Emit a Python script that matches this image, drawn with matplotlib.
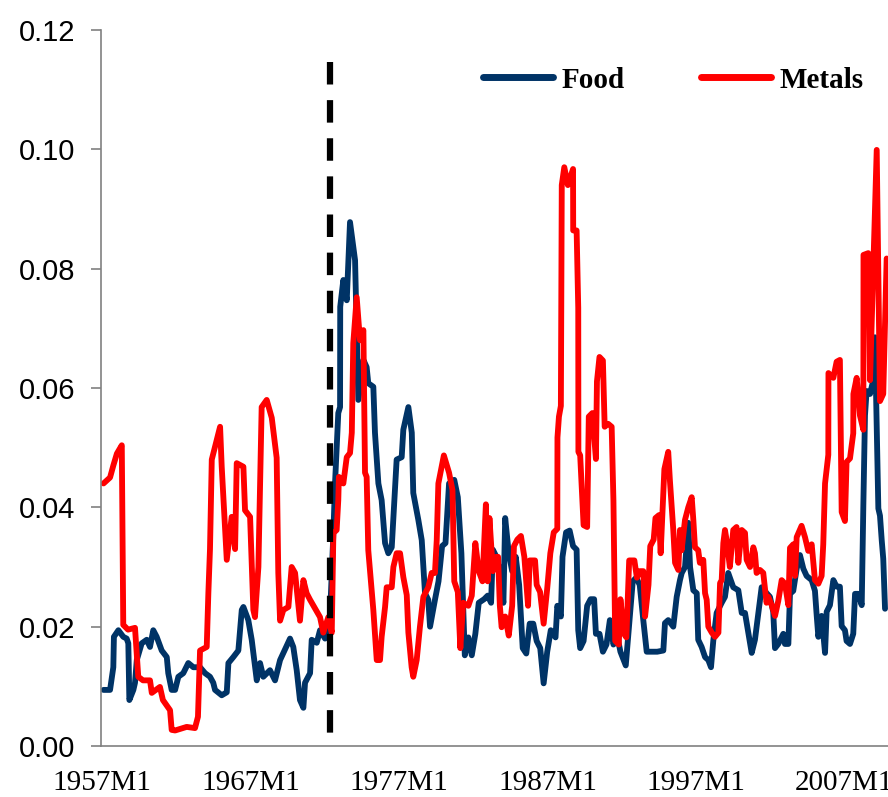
import matplotlib
matplotlib.use("Agg")
import matplotlib.pyplot as plt
from matplotlib.ticker import FormatStrFormatter

# dates as decimal years
food_year = [
    1957.10, 1957.54, 1957.76, 1957.80, 1958.10, 1958.43, 1958.66, 1958.77, 1958.84, 1959.11,
    1959.22, 1959.34, 1959.67, 1960.01, 1960.23, 1960.45, 1960.68, 1961.02, 1961.36, 1961.46,
    1961.69, 1961.92, 1962.14, 1962.47, 1962.81, 1963.15, 1963.60, 1963.94, 1964.27, 1964.49,
    1964.61, 1965.06, 1965.40, 1965.51, 1965.84, 1966.18, 1966.41, 1966.52, 1966.85, 1967.08,
    1967.42, 1967.64, 1967.86, 1968.31, 1968.65, 1968.99, 1969.66, 1969.88, 1970.11, 1970.33,
    1970.56, 1970.67, 1971.01, 1971.12, 1971.46, 1971.68, 1972.02, 1972.35, 1972.58, 1972.69,
    1972.91, 1973.03, 1973.04, 1973.25, 1973.48, 1973.70, 1974.04, 1974.26, 1974.60, 1974.82,
    1974.93, 1975.27, 1975.38, 1975.61, 1975.83, 1976.06, 1976.28, 1976.51, 1976.84, 1977.18,
    1977.29, 1977.63, 1977.86, 1977.96, 1978.30, 1978.53, 1978.75, 1978.97, 1979.09, 1979.42,
    1979.66, 1979.90, 1980.13, 1980.37, 1980.72, 1980.96, 1981.20, 1981.32, 1981.43, 1981.67,
    1981.90, 1982.14, 1982.37, 1982.73, 1982.97, 1983.20, 1983.32, 1983.56, 1983.79, 1984.03,
    1984.15, 1984.39, 1984.62, 1984.86, 1985.09, 1985.33, 1985.57, 1985.80, 1986.04, 1986.27,
    1986.51, 1986.74, 1986.98, 1987.22, 1987.54, 1987.66, 1987.90, 1988.01, 1988.25, 1988.49,
    1988.72, 1988.96, 1989.07, 1989.20, 1989.43, 1989.67, 1989.90, 1990.14, 1990.26, 1990.50,
    1990.73, 1990.97, 1991.20, 1991.44, 1991.67, 1991.91, 1992.27, 1992.50, 1992.74, 1992.97,
    1993.21, 1993.45, 1993.68, 1994.39, 1994.80, 1994.91, 1995.13, 1995.47, 1995.70, 1995.92,
    1996.04, 1996.26, 1996.48, 1996.60, 1996.82, 1997.05, 1997.15, 1997.38, 1997.61, 1997.83,
    1998.01, 1998.17, 1998.39, 1998.73, 1998.95, 1999.17, 1999.51, 1999.85, 2000.08, 2000.30,
    2000.52, 2000.75, 2000.97, 2001.20, 2001.42, 2001.76, 2001.98, 2002.20, 2002.32, 2002.54,
    2002.88, 2002.99, 2003.22, 2003.33, 2003.55, 2003.78, 2004.00, 2004.23, 2004.45, 2004.79,
    2005.01, 2005.13, 2005.24, 2005.46, 2005.69, 2005.80, 2006.02, 2006.25, 2006.47, 2006.69,
    2006.81, 2007.03, 2007.14, 2007.37, 2007.59, 2007.71, 2007.93, 2008.16, 2008.27, 2008.38,
    2008.49, 2008.72, 2008.94, 2009.05, 2009.28, 2009.39, 2009.51, 2009.61, 2009.73,
]
food_value = [
    0.0094, 0.0094, 0.0132, 0.0183, 0.0194, 0.0183, 0.0180, 0.0172, 0.0077, 0.0094,
    0.0106, 0.0144, 0.0172, 0.0178, 0.0166, 0.0194, 0.0183, 0.0160, 0.0149, 0.0122,
    0.0094, 0.0094, 0.0116, 0.0122, 0.0139, 0.0132, 0.0132, 0.0122, 0.0116, 0.0106,
    0.0094, 0.0085, 0.0090, 0.0139, 0.0149, 0.0160, 0.0228, 0.0233, 0.0211, 0.0178,
    0.0110, 0.0139, 0.0116, 0.0127, 0.0110, 0.0144, 0.0180, 0.0166, 0.0127, 0.0077,
    0.0064, 0.0106, 0.0122, 0.0178, 0.0173, 0.0194, 0.0180, 0.0216, 0.0357, 0.0440,
    0.0558, 0.0568, 0.0736, 0.0781, 0.0747, 0.0878, 0.0814, 0.0580, 0.0647, 0.0635,
    0.0608, 0.0602, 0.0525, 0.0440, 0.0412, 0.0340, 0.0323, 0.0333, 0.0480, 0.0484,
    0.0530, 0.0568, 0.0525, 0.0424, 0.0379, 0.0345, 0.0256, 0.0245, 0.0200, 0.0245,
    0.0276, 0.0335, 0.0340, 0.0440, 0.0446, 0.0417, 0.0323, 0.0235, 0.0152, 0.0182,
    0.0152, 0.0188, 0.0240, 0.0246, 0.0252, 0.0240, 0.0329, 0.0317, 0.0293, 0.0240,
    0.0382, 0.0323, 0.0293, 0.0317, 0.0270, 0.0164, 0.0155, 0.0205, 0.0205, 0.0176,
    0.0164, 0.0105, 0.0158, 0.0194, 0.0182, 0.0235, 0.0217, 0.0317, 0.0358, 0.0361,
    0.0335, 0.0329, 0.0194, 0.0164, 0.0176, 0.0235, 0.0246, 0.0246, 0.0188, 0.0188,
    0.0158, 0.0170, 0.0211, 0.0170, 0.0188, 0.0158, 0.0135, 0.0205, 0.0276, 0.0282,
    0.0270, 0.0211, 0.0158, 0.0158, 0.0160, 0.0206, 0.0211, 0.0200, 0.0250, 0.0278,
    0.0290, 0.0300, 0.0374, 0.0300, 0.0261, 0.0256, 0.0178, 0.0166, 0.0149, 0.0144,
    0.0132, 0.0178, 0.0223, 0.0240, 0.0250, 0.0290, 0.0266, 0.0261, 0.0223, 0.0223,
    0.0190, 0.0156, 0.0178, 0.0223, 0.0266, 0.0256, 0.0250, 0.0225, 0.0164, 0.0171,
    0.0188, 0.0171, 0.0171, 0.0255, 0.0260, 0.0297, 0.0320, 0.0297, 0.0285, 0.0278,
    0.0260, 0.0218, 0.0183, 0.0218, 0.0156, 0.0225, 0.0236, 0.0278, 0.0267, 0.0267,
    0.0201, 0.0194, 0.0176, 0.0171, 0.0188, 0.0255, 0.0255, 0.0236, 0.0404, 0.0554,
    0.0595, 0.0590, 0.0613, 0.0685, 0.0398, 0.0386, 0.0344, 0.0314, 0.0230,
]

metal_year = [
    1957.10, 1957.54, 1957.76, 1958.00, 1958.33, 1958.43, 1958.75, 1959.22, 1959.44, 1959.76,
    1960.23, 1960.35, 1960.90, 1961.10, 1961.58, 1961.69, 1961.92, 1962.70, 1963.26, 1963.46,
    1963.60, 1964.05, 1964.16, 1964.27, 1964.39, 1964.95, 1965.06, 1965.40, 1965.73, 1965.96,
    1966.07, 1966.52, 1966.63, 1966.97, 1967.19, 1967.30, 1967.53, 1967.75, 1968.09, 1968.43,
    1968.76, 1968.87, 1968.99, 1969.21, 1969.55, 1969.77, 1970.00, 1970.33, 1970.56, 1970.78,
    1971.01, 1971.68, 1971.90, 1972.24, 1972.47, 1972.58, 1972.80, 1972.91, 1972.95, 1973.25,
    1973.48, 1973.70, 1973.82, 1973.92, 1974.15, 1974.37, 1974.60, 1974.71, 1974.82, 1974.93,
    1975.27, 1975.50, 1975.72, 1975.83, 1976.06, 1976.17, 1976.51, 1976.62, 1976.84, 1977.07,
    1977.29, 1977.52, 1977.63, 1977.85, 1977.96, 1978.19, 1978.41, 1978.64, 1978.97, 1979.20,
    1979.42, 1979.54, 1979.65, 1980.02, 1980.37, 1980.60, 1980.72, 1980.96, 1981.13, 1981.32,
    1981.67, 1981.90, 1982.14, 1982.37, 1982.62, 1982.85, 1982.97, 1983.09, 1983.32, 1983.56,
    1983.67, 1983.79, 1983.91, 1984.15, 1984.39, 1984.62, 1984.74, 1984.97, 1985.21, 1985.44,
    1985.69, 1985.80, 1986.16, 1986.27, 1986.50, 1986.74, 1986.98, 1987.19, 1987.42, 1987.66,
    1987.67, 1987.77, 1987.90, 1987.96, 1988.13, 1988.37, 1988.72, 1988.73, 1988.96, 1989.07,
    1989.08, 1989.20, 1989.43, 1989.67, 1989.78, 1990.02, 1990.26, 1990.33, 1990.50, 1990.73,
    1990.85, 1991.08, 1991.32, 1991.44, 1991.56, 1991.80, 1991.91, 1992.15, 1992.31, 1992.50,
    1992.85, 1993.02, 1993.21, 1993.45, 1993.57, 1993.80, 1993.92, 1994.15, 1994.27, 1994.51,
    1994.62, 1994.87, 1995.13, 1995.24, 1995.47, 1995.59, 1995.81, 1995.92, 1996.03, 1996.26,
    1996.48, 1996.71, 1996.82, 1996.93, 1997.15, 1997.26, 1997.49, 1997.61, 1997.72, 1997.83,
    1998.06, 1998.28, 1998.51, 1998.62, 1998.73, 1998.84, 1998.95, 1999.06, 1999.28, 1999.51,
    1999.73, 1999.85, 2000.08, 2000.30, 2000.41, 2000.64, 2000.86, 2000.97, 2001.08, 2001.31,
    2001.53, 2001.75, 2001.87, 2002.10, 2002.32, 2002.54, 2002.77, 2002.99, 2003.22, 2003.33,
    2003.55, 2003.67, 2003.78, 2004.11, 2004.34, 2004.56, 2004.79, 2005.01, 2005.24, 2005.46,
    2005.57, 2005.69, 2005.91, 2005.92, 2006.25, 2006.47, 2006.69, 2006.81, 2007.03, 2007.14,
    2007.37, 2007.59, 2007.60, 2007.82, 2008.04, 2008.27, 2008.28, 2008.60, 2008.72, 2008.94,
    2009.17, 2009.39, 2009.61, 2009.84,
]
metal_value = [
    0.0440, 0.0450, 0.0470, 0.0490, 0.0504, 0.0203, 0.0195, 0.0198, 0.0116, 0.0110,
    0.0110, 0.0089, 0.0099, 0.0077, 0.0060, 0.0027, 0.0026, 0.0032, 0.0030, 0.0049,
    0.0160, 0.0166, 0.0256, 0.0330, 0.0480, 0.0535, 0.0468, 0.0312, 0.0384, 0.0330,
    0.0474, 0.0468, 0.0395, 0.0384, 0.0228, 0.0216, 0.0300, 0.0568, 0.0580, 0.0550,
    0.0483, 0.0290, 0.0210, 0.0228, 0.0233, 0.0300, 0.0290, 0.0210, 0.0278, 0.0256,
    0.0245, 0.0216, 0.0190, 0.0216, 0.0190, 0.0357, 0.0362, 0.0412, 0.0451, 0.0440,
    0.0484, 0.0491, 0.0525, 0.0675, 0.0752, 0.0680, 0.0697, 0.0458, 0.0451, 0.0328,
    0.0228, 0.0144, 0.0144, 0.0183, 0.0233, 0.0266, 0.0266, 0.0300, 0.0323, 0.0323,
    0.0283, 0.0253, 0.0190, 0.0132, 0.0116, 0.0144, 0.0200, 0.0250, 0.0266, 0.0290,
    0.0290, 0.0345, 0.0440, 0.0487, 0.0458, 0.0429, 0.0276, 0.0258, 0.0164, 0.0240,
    0.0235, 0.0252, 0.0340, 0.0293, 0.0276, 0.0405, 0.0276, 0.0382, 0.0293, 0.0317,
    0.0317, 0.0235, 0.0199, 0.0217, 0.0185, 0.0235, 0.0335, 0.0346, 0.0352, 0.0317,
    0.0235, 0.0311, 0.0311, 0.0270, 0.0258, 0.0205, 0.0264, 0.0323, 0.0358, 0.0364,
    0.0517, 0.0552, 0.0570, 0.0940, 0.0970, 0.0940, 0.0967, 0.0864, 0.0864, 0.0734,
    0.0493, 0.0487, 0.0370, 0.0367, 0.0552, 0.0558, 0.0481, 0.0611, 0.0652, 0.0646,
    0.0535, 0.0540, 0.0535, 0.0411, 0.0176, 0.0170, 0.0246, 0.0188, 0.0182, 0.0311,
    0.0311, 0.0282, 0.0293, 0.0293, 0.0217, 0.0270, 0.0335, 0.0346, 0.0382, 0.0387,
    0.0323, 0.0464, 0.0493, 0.0446, 0.0362, 0.0307, 0.0295, 0.0362, 0.0328, 0.0379,
    0.0400, 0.0417, 0.0379, 0.0333, 0.0328, 0.0307, 0.0312, 0.0256, 0.0245, 0.0200,
    0.0190, 0.0183, 0.0190, 0.0273, 0.0278, 0.0340, 0.0362, 0.0345, 0.0300, 0.0362,
    0.0367, 0.0307, 0.0362, 0.0357, 0.0312, 0.0300, 0.0333, 0.0323, 0.0290, 0.0295,
    0.0290, 0.0240, 0.0250, 0.0236, 0.0218, 0.0243, 0.0278, 0.0272, 0.0236, 0.0332,
    0.0338, 0.0285, 0.0350, 0.0369, 0.0350, 0.0327, 0.0338, 0.0278, 0.0272, 0.0285,
    0.0338, 0.0440, 0.0488, 0.0625, 0.0617, 0.0644, 0.0647, 0.0392, 0.0377, 0.0476,
    0.0482, 0.0524, 0.0590, 0.0617, 0.0554, 0.0530, 0.0823, 0.0826, 0.0613, 0.0800,
    0.0999, 0.0578, 0.0590, 0.0817,
]

tick_years = [1957, 1967, 1977, 1987, 1997, 2007]
tick_labels = ["1957M1", "1967M1", "1977M1", "1987M1", "1997M1", "2007M1"]
break_year = 1972.35

fig = plt.figure(figsize=(8.88, 7.97), dpi=100)
ax = fig.add_axes([0.1134, 0.064, 0.8866, 0.8984])

ax.plot(food_year, food_value, color="#003366", lw=4.2, label="Food",
        solid_joinstyle="round", solid_capstyle="round")
ax.plot(metal_year, metal_value, color="#ff0000", lw=4.2, label="Metals",
        solid_joinstyle="round", solid_capstyle="round")
ax.plot([break_year, break_year], [0.1146, 0.0007], color="black", lw=4.5,
        linestyle=(0, (3.6, 2.5)), dash_capstyle="butt")

ax.set_xlim(1956.91, 2009.93)
ax.set_ylim(0, 0.12)
ax.set_yticks([0, 0.02, 0.04, 0.06, 0.08, 0.10, 0.12])
ax.yaxis.set_major_formatter(FormatStrFormatter("%.2f"))
ax.set_xticks(tick_years)
ax.set_xticklabels(tick_labels, family="Liberation Serif", fontsize=21)
for t in ax.get_yticklabels():
    t.set_family("Liberation Sans")
    t.set_fontsize(21)

for side in ["top", "right"]:
    ax.spines[side].set_visible(False)
for side in ["left", "bottom"]:
    ax.spines[side].set_color("#808080")
    ax.spines[side].set_linewidth(1.2)
ax.tick_params(axis="y", direction="out", length=7.2, width=1.2, color="#808080", pad=11)
ax.tick_params(axis="x", length=0, pad=17)

leg = ax.legend(loc="center left", bbox_to_anchor=(483 / 888, 1 - 80 / 797),
                bbox_transform=fig.transFigure, ncol=2, frameon=False,
                prop={"family": "Liberation Serif", "weight": "bold", "size": 21},
                handlelength=2.4, handletextpad=0.3, columnspacing=2.6,
                borderpad=0, borderaxespad=0)
for h in leg.get_lines():
    h.set_linewidth(5)
    h.set_solid_capstyle("round")

fig.savefig("out.png", dpi=100)
